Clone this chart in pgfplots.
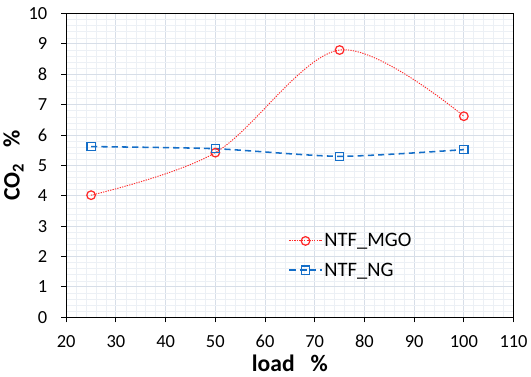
\documentclass[border={0pt 0pt 0pt 4pt}]{standalone}
\usepackage{pgfplots}
\pgfplotsset{compat=1.18}
\usepackage{fontspec}
\setmainfont{Carlito}
\definecolor{mgo}{RGB}{255,40,40}
\definecolor{ng}{RGB}{20,110,200}
\definecolor{majg}{RGB}{215,222,232}
\definecolor{ming}{RGB}{236,240,245}
\begin{document}
\begin{tikzpicture}
\begin{axis}[
  scale only axis, width=436pt, height=296pt,
  xmin=20, xmax=110, ymin=0, ymax=10,
  xtick={20,30,...,110}, ytick={0,1,...,10},
  minor x tick num=4, minor y tick num=4,
  grid=both,
  major grid style={majg, line width=1pt},
  minor grid style={ming, line width=0.6pt},
  axis line style={black, line width=1.3pt},
  tick style={black, line width=1pt},
  minor tick style={draw=none},
  tick align=outside,
  major tick length=5pt,
  xtick pos=bottom, ytick pos=left,
  tick label style={font=\fontsize{18}{21}\selectfont},
  yticklabel style={xshift=-10pt},
  xticklabel style={yshift=-9pt},
  /pgf/number format/assume math mode=true,
  xlabel={\textbf{load\ \ \ \%}},
  ylabel={\textbf{CO\textsubscript{2}\ \ \ \%}},
  label style={font=\fontsize{23}{27}\selectfont},
  xlabel style={yshift=2pt, inner ysep=5pt},
  ylabel style={yshift=-2pt},
  legend style={at={(0.49,0.29)}, anchor=north west, draw=none, fill=none,
    font=\fontsize{20}{24}\selectfont, row sep=10pt},
  legend cell align=left,
  legend image code/.code={\draw[mark repeat=2, mark phase=2] plot coordinates {(0cm,0cm) (0.55cm,0cm) (1.1cm,0cm)};},
]
\addplot[color=mgo, dash pattern=on 1.2pt off 1.2pt, line width=0.9pt, smooth, tension=0.55, mark=o, mark size=4.2pt, mark options={solid, draw=mgo, fill=white, line width=1.2pt}]
  coordinates {(25,4.02) (50,5.42) (75,8.8) (100,6.62)};
\addlegendentry{NTF\_MGO}
\addplot[color=ng, dash pattern=on 6pt off 4pt, line width=1.5pt, smooth, tension=0.4, mark=square, mark size=4pt, mark options={solid, draw=ng, fill=white, line width=1.3pt}]
  coordinates {(25,5.62) (50,5.55) (75,5.3) (100,5.52)};
\addlegendentry{NTF\_NG}
\end{axis}
\end{tikzpicture}
\end{document}
